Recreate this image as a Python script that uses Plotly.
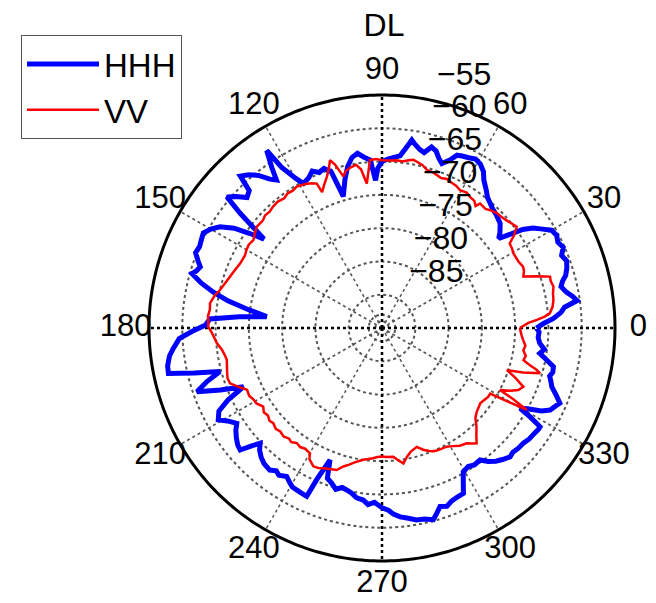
import plotly.graph_objects as go

# ---- data (angle in degrees, level in dB) ----
hhh_theta = [0, 1.5, 3.2, 5, 6.5, 8, 9.5, 11, 13, 14.5, 16, 18, 20, 22, 24, 26, 28, 30, 32, 33.5,
             35, 36.5, 37.5, 39, 41.5, 43, 45, 47, 49, 51, 53, 55.5, 57, 59, 61, 63, 65, 66.5, 68, 70,
             71.5, 73, 74.7, 76.5, 78, 80, 81, 82.5, 84, 86, 88, 90, 91.5, 92.5, 94, 96, 98, 100, 102, 104,
             106.4, 108, 110, 112, 114, 116, 118.5, 120, 122, 123, 124.5, 125.5, 127, 129, 131, 133, 134, 136, 138, 139.8,
             141, 143, 144.5, 146, 148, 150, 152, 154, 156, 158, 160, 161.4, 163, 164, 166, 168, 170, 172, 174.4, 175.5,
             177, 179, 181, 183, 185.6, 187.5, 190, 192, 193.5, 195, 197, 199, 201, 203, 205, 207, 209.3, 211, 213.3, 215,
             217, 219, 220.7, 222, 223.4, 225, 227, 229, 231.7, 233.5, 235, 237.3, 239, 240.5, 242.2, 244, 245.9, 246.7, 248.5, 250,
             252, 254, 256, 257.7, 259.5, 261.5, 263.8, 265.5, 267.5, 270, 272, 273.5, 275.5, 277.5, 280.2, 282.5, 285, 286.5, 288, 290,
             292, 294, 296.2, 298, 299.5, 301.9, 304, 306.6, 308.5, 310.5, 312.5, 314.8, 316.5, 318.5, 320.8, 323, 325, 327, 328, 329,
             329.8, 331, 332.5, 334, 335.5, 337.1, 339, 340.9, 342.5, 344, 345.5, 347.3, 349, 350.9, 352.5, 354.5, 356.5, 358.5, 360]
hhh_db = [-66.8, -65.8, -64.2, -63.0, -62.4, -60.4, -61.0, -61.8, -62.4, -62.0, -61.3, -60.8, -60.5, -60.9, -60.2, -60.6, -60.3, -60.6, -61.9, -62.8,
          -64.2, -66.6, -67.9, -67.2, -66.3, -66.1, -65.8, -65.6, -65.2, -64.8, -64.0, -63.0, -62.0, -61.3, -61.0, -61.3, -61.5, -61.7, -62.8, -63.7,
          -63.1, -62.2, -61.8, -62.9, -62.6, -61.9, -61.4, -62.8, -64.0, -64.3, -64.6, -65.0, -66.0, -67.8, -64.7, -64.2, -63.5, -64.0, -65.2, -67.0,
          -69.4, -65.3, -64.5, -64.8, -64.2, -64.9, -65.3, -64.0, -61.5, -58.2, -60.8, -62.7, -62.0, -60.5, -59.5, -58.8, -61.3, -61.8, -60.5, -59.5,
          -62.5, -67.8, -65.5, -63.2, -61.3, -60.3, -59.6, -59.8, -60.0, -59.8, -60.6, -61.2, -60.8, -60.3, -62.0, -64.1, -66.5, -69.5, -72.6, -68.5,
          -64.1, -63.5, -61.5, -59.5, -58.5, -57.8, -57.3, -57.2, -61.0, -64.8, -62.5, -60.6, -64.0, -67.4, -64.5, -62.5, -61.8, -62.9, -63.9, -63.2,
          -62.6, -62.1, -61.9, -63.5, -64.8, -64.0, -63.4, -63.0, -62.8, -63.3, -63.0, -63.5, -63.0, -62.6, -62.5, -62.4, -62.3, -65.2, -68.7, -66.0,
          -65.5, -64.8, -65.3, -65.1, -64.8, -64.2, -64.0, -63.4, -63.8, -63.0, -62.6, -62.0, -61.5, -61.2, -60.7, -60.6, -60.2, -61.0, -61.8, -61.5,
          -62.0, -62.2, -62.3, -64.0, -65.2, -65.5, -65.2, -65.3, -64.4, -63.7, -63.2, -62.7, -62.9, -62.7, -62.6, -62.3, -62.2, -62.0, -62.0, -64.0,
          -66.0, -65.0, -63.0, -61.9, -61.5, -61.0, -62.0, -63.0, -63.4, -63.8, -63.5, -63.6, -64.8, -66.0, -65.4, -66.2, -66.5, -66.4, -66.8]

vv_theta = [0, 2, 3, 4, 5, 7, 9.3, 11.4, 13.6, 15.5, 17, 18.5, 20, 22, 23.5, 26, 29.6, 31.5, 33.5, 35,
            36.9, 39, 41, 43, 45, 47, 49, 51.8, 52.5, 54, 56, 58, 60.5, 62.5, 64.5, 66.5, 68.5, 70.3, 72, 74.2,
            76, 78, 79.4, 81, 83, 85, 87, 90, 92, 94.1, 95, 96, 97.5, 99, 101, 103, 104.3, 106, 107.2, 108.5,
            110, 112, 113.8, 114.3, 116, 118, 121.1, 123, 125, 127, 129.5, 131.9, 134, 136, 138, 141, 143.5, 145.6, 148, 150,
            152, 155.5, 158, 161.4, 164, 166.8, 169, 171.8, 174, 176, 178, 179.6, 181.5, 183.5, 185.3, 187.5, 189.5, 191.6, 194, 196,
            198, 200, 202.5, 204.6, 207, 209, 211, 213.5, 215.5, 217.5, 219.5, 221.2, 223.5, 225.5, 227.8, 230, 231.5, 233.5, 235.5, 237.5,
            240.1, 241, 243.6, 245.5, 247.5, 249.5, 252.3, 254.4, 256.5, 258.5, 261.9, 264, 266, 268, 270, 272, 275, 277, 279, 281,
            283, 286.3, 288.7, 291, 293, 295, 298.6, 301, 303.5, 306.3, 308, 309.4, 311, 313.8, 316, 318.5, 320.5, 322.5, 325, 327,
            328.8, 329.7, 330.5, 331.5, 332.3, 334, 335.5, 337.4, 339.5, 341.4, 342.5, 344, 344.8, 346, 347.2, 349, 351, 353, 355, 357, 360]
vv_db = [-69.3, -68.0, -66.7, -65.5, -64.7, -64.2, -63.9, -63.8, -63.5, -63.7, -63.6, -65.5, -67.4, -67.0, -66.9, -67.2, -67.3, -67.1, -67.0, -65.8,
         -64.7, -65.0, -65.3, -65.5, -65.6, -65.9, -66.3, -66.2, -66.9, -66.4, -66.3, -66.0, -66.2, -65.9, -65.8, -65.6, -65.8, -65.6, -65.4, -65.3,
         -64.8, -64.5, -64.3, -64.5, -64.8, -64.7, -64.8, -64.8, -64.6, -64.7, -66.5, -68.2, -66.0, -65.2, -65.4, -65.8, -66.5, -64.5, -63.6, -64.8,
         -65.8, -66.8, -67.7, -66.2, -65.8, -65.5, -65.2, -65.4, -65.3, -65.6, -65.4, -65.5, -65.7, -65.6, -65.9, -65.8, -66.2, -66.6, -66.4, -66.5,
         -66.7, -66.6, -66.3, -65.9, -65.5, -65.0, -64.4, -63.9, -64.0, -63.8, -63.9, -63.9, -64.4, -64.8, -65.1, -65.7, -66.0, -66.2, -66.0, -65.8,
         -65.6, -65.7, -66.8, -67.7, -67.6, -67.9, -68.0, -68.6, -68.2, -68.4, -68.1, -68.3, -68.0, -68.2, -68.0, -68.3, -68.1, -68.5, -68.3, -68.5,
         -68.3, -67.5, -66.8, -66.9, -67.2, -67.4, -67.6, -68.4, -68.9, -69.4, -70.0, -70.2, -70.4, -70.6, -70.7, -70.6, -70.6, -70.0, -69.4, -70.3,
         -70.9, -71.4, -70.7, -70.2, -69.9, -69.8, -69.7, -69.3, -68.8, -68.5, -68.0, -67.6, -68.4, -69.5, -70.5, -71.0, -71.2, -71.4, -71.2, -71.0,
         -71.0, -68.0, -65.0, -67.5, -70.0, -68.5, -67.5, -67.0, -68.6, -70.2, -67.8, -65.3, -65.9, -67.2, -68.2, -68.0, -68.5, -68.3, -68.7, -69.0, -69.3]

angle_ticks = [0, 30, 60, 90, 120, 150, 180, 210, 240, 270, 300, 330]
angle_labels = [str(a) for a in angle_ticks]
radial_ticks = [-85, -80, -75, -70, -65, -60, -55]
radial_labels = ["\u00a0\u00a0\u2212" + str(-v) for v in radial_ticks]
inner_rings = [-89, -88]          # small rings drawn near the centre in the reference
label_angle = 82                   # direction along which the radial labels are written
r_min, r_max = -90, -55
angle_label_r = r_min + 1.1 * (r_max - r_min)   # angle labels sit at 1.1 x outer radius
r_view = angle_label_r + 0.1                    # visible radial range reaches the labels

FONT = "Arial, Liberation Sans, sans-serif"

fig = go.Figure()

# dotted spokes every 30 degrees (grey), cross-hair ones darker
diag = [a for a in angle_ticks if a % 90 != 0]
cross = [a for a in angle_ticks if a % 90 == 0]
spoke_r, spoke_t = [], []
for a in diag:
    spoke_r += [r_min, r_max, None]
    spoke_t += [a, a, None]
fig.add_trace(go.Scatterpolar(r=spoke_r, theta=spoke_t, mode="lines",
                              line=dict(color="#555", width=1.5, dash="dot"),
                              showlegend=False, hoverinfo="skip", connectgaps=False))
cross_r, cross_t = [], []
for a in cross:
    cross_r += [r_min, r_max, None]
    cross_t += [a, a, None]
fig.add_trace(go.Scatterpolar(r=cross_r, theta=cross_t, mode="lines",
                              line=dict(color="black", width=2.5, dash="dot"),
                              showlegend=False, hoverinfo="skip", connectgaps=False))

# solid outer circle at the top of the data range
ring_theta = list(range(0, 361))
fig.add_trace(go.Scatterpolar(r=[r_max] * len(ring_theta), theta=ring_theta, mode="lines",
                              line=dict(color="black", width=3),
                              showlegend=False, hoverinfo="skip"))

fig.add_trace(go.Scatterpolar(r=hhh_db, theta=hhh_theta, mode="lines", name="HHH",
                              line=dict(color="#0000ff", width=5)))
fig.add_trace(go.Scatterpolar(r=vv_db, theta=vv_theta, mode="lines", name="VV",
                              line=dict(color="#ff0000", width=2.5)))

# radial tick labels, written MATLAB-style above/right of the 82 degree direction
fig.add_trace(go.Scatterpolar(r=radial_ticks, theta=[label_angle] * len(radial_ticks),
                              mode="markers+text", text=radial_labels, textposition="top right",
                              marker=dict(size=6, color="rgba(0,0,0,0)"),
                              textfont=dict(size=32, family=FONT, color="black"),
                              showlegend=False, hoverinfo="skip", cliponaxis=False))

# angular labels centred at 1.1 x the outer radius
fig.add_trace(go.Scatterpolar(r=[angle_label_r] * len(angle_ticks), theta=angle_ticks,
                              mode="text", text=angle_labels, textposition="middle center",
                              textfont=dict(size=31, family=FONT, color="black"),
                              showlegend=False, hoverinfo="skip", cliponaxis=False))

W, H = 656, 603
# the page is drawn 8 px in from the top-left corner of the window
cx, cy, R = 382 - 8, 328 - 8, 233
Rv = R * (r_view - r_min) / (r_max - r_min)
fig.update_layout(
    width=W, height=H,
    margin=dict(l=0, r=0, t=0, b=0, autoexpand=False),
    paper_bgcolor="white", plot_bgcolor="white",
    font=dict(family=FONT, size=30, color="black"),
    title=dict(text="DL", x=(384 - 8) / W, xanchor="center", y=1 - (25 - 8) / H, yanchor="middle",
               yref="container", pad=dict(t=0, b=0, l=0, r=0),
               font=dict(size=32, family=FONT, color="black")),
    showlegend=True,
    legend=dict(x=(21 - 8) / W, y=1 - (35 - 8) / H, xanchor="left", yanchor="top",
                bordercolor="#555", borderwidth=1, bgcolor="white",
                font=dict(size=33, family=FONT), tracegroupgap=0, itemwidth=72),
    polar=dict(
        domain=dict(x=[(cx - Rv) / W, (cx + Rv) / W], y=[(H - cy - Rv) / H, (H - cy + Rv) / H]),
        bgcolor="white",
        radialaxis=dict(range=[r_min, r_view], tickvals=inner_rings + radial_ticks[:-1], showline=False,
                        showticklabels=False, ticks="", angle=label_angle,
                        gridcolor="#555", griddash="dot", gridwidth=1.5),
        angularaxis=dict(tickvals=angle_ticks, direction="counterclockwise",
                         rotation=0, showline=False, showgrid=False, ticks="",
                         showticklabels=False),
    ),
)

fig.write_html("out.html")
